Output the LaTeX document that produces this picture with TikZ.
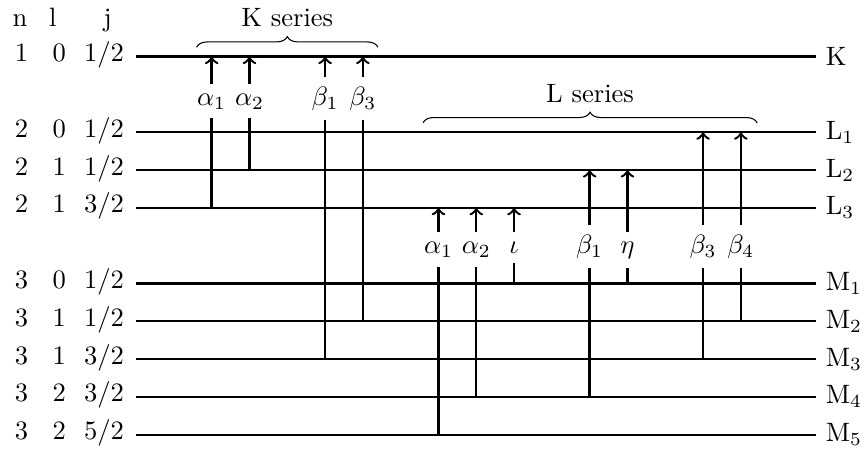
\documentclass[tikz,border=0pt]{standalone}
\usetikzlibrary{decorations.pathreplacing}
\begin{document}
\begin{tikzpicture}[x=0.5cm,y=-0.5cm,
  lvl/.style={line width=0.9pt},
  tr/.style={line width=0.9pt},
  trlab/.style={anchor=base},
  llab/.style={anchor=base},
  rlab/.style={anchor=west},
  brc/.style={decorate,decoration={brace,amplitude=4pt}}]
\useasboundingbox (0,0) rectangle (22.857,11.905);
% levels
\foreach \nm/\y/\lab in {K/1.5/K, L1/3.5/L$_1$, L2/4.5/L$_2$, L3/5.5/L$_3$,
  M1/7.5/M$_1$, M2/8.5/M$_2$, M3/9.5/M$_3$, M4/10.5/M$_4$, M5/11.5/M$_5$}{
  \coordinate (\nm-l) at (3.6,\y);
  \coordinate (\nm-r) at (21.6,\y);
  \draw[lvl] (\nm-l) -- (\nm-r);
  \node[rlab] (\nm-name) at (\nm-r) {\lab};
}
% headers
\node[llab] (hn) at (0.53,0.71) {n};
\node[llab] (hl) at (1.40,0.71) {l};
\node[llab] (hj) at (2.85,0.71) {j};
% quantum numbers
\foreach \nm/\y/\n/\l/\j in {K/1.5/1/0/{$1/2$}, L1/3.5/2/0/{$1/2$}, L2/4.5/2/1/{$1/2$},
  L3/5.5/2/1/{$3/2$}, M1/7.5/3/0/{$1/2$}, M2/8.5/3/1/{$1/2$}, M3/9.5/3/1/{$3/2$},
  M4/10.5/3/2/{$3/2$}, M5/11.5/3/2/{$5/2$}}{
  \node[llab] (\nm-n) at (0.57,\y+0.13) {$\n$};
  \node[llab] (\nm-ql) at (1.57,\y+0.13) {$\l$};
  \node[llab] (\nm-j) at (2.75,\y+0.13) {\j};
}
% K series transitions
\foreach \id/\x/\lab/\from/\to in {Ka1/5.6/\alpha_1/L3/K, Ka2/6.6/\alpha_2/L2/K,
  Kb1/8.6/\beta_1/M3/K, Kb3/9.6/\beta_3/M2/K}{
  \node[trlab] (\id) at (\x,2.78) {$\lab$};
  \draw[tr,->] (\id.north) -- (\id.north |- \to-l);
  \draw[tr] (\id.south) -- (\id.south |- \from-l);
}
% L series transitions
\foreach \id/\x/\lab/\from/\to in {La1/11.6/\alpha_1/M5/L3, La2/12.6/\alpha_2/M4/L3,
  Li/13.6/\iota/M1/L3, Lb1/15.6/\beta_1/M4/L2, Le/16.6/\eta/M1/L2,
  Lb3/18.6/\beta_3/M3/L1, Lb4/19.6/\beta_4/M2/L1}{
  \node[trlab] (\id) at (\x,6.70) {$\lab$};
  \draw[tr,->] (\id.north) -- (\id.north |- \to-l);
  \draw[tr] (\id.south) -- (\id.south |- \from-l);
}
% braces
\coordinate (kb-l) at (5.2,1.25);
\coordinate (kb-r) at (10.0,1.25);
\draw[brc] (kb-l) -- (kb-r);
\node[anchor=base] (kser) at (7.6,0.71) {K series};
\coordinate (lb-l) at (11.19,3.25);
\coordinate (lb-r) at (20.03,3.25);
\draw[brc] (lb-l) -- (lb-r);
\node[anchor=base] (lser) at (15.61,2.72) {L series};
\end{tikzpicture}
\end{document}
